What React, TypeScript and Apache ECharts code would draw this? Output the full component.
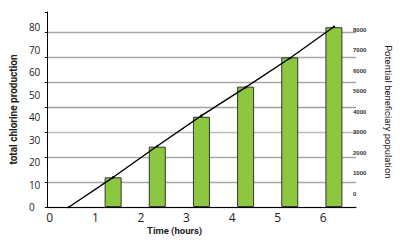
import React, { useEffect, useRef } from 'react';
import * as echarts from 'echarts';

const hours = ['0', '1', '2', '3', '4', '5', '6'];
const chlorine: (number | string)[] = ['-', 13.2, 26.8, 40.1, 53.5, 66.5, 79.9];
const population = [0, 1320, 2710, 4060, 5320, 6610, 8010];
const leftTitle = 'total chlorine production';
const rightTitle = 'Potential beneficiary population';
const xTitle = 'Time (hours)';
const gridLineColors = ['#a8a8a8', '#a8a8a8', '#a8a8a8', '#bdbdbd', '#a0a0a0', '#a8a8a8', '#a8a8a8', '#a8a8a8', 'rgba(0,0,0,0)'];

export default function App() {
  const ref = useRef<HTMLDivElement>(null);
  useEffect(() => {
    if (!ref.current) return;
    const chart = echarts.init(ref.current, null, { renderer: 'svg' });
    chart.setOption({
      animation: false,
      backgroundColor: '#ffffff',
      grid: [
        { left: 37, right: 45, top: 12, bottom: 40 },
        { left: 37, right: 45, top: 29.7, bottom: 53 },
        { left: 27, right: 55, top: 12, bottom: 40 },
      ],
      xAxis: [
        {
          type: 'category',
          gridIndex: 0,
          data: hours,
          axisLine: { lineStyle: { color: '#000', width: 1 } },
          axisTick: { length: 3, lineStyle: { color: '#000' } },
          axisLabel: { show: false },
        },
        { type: 'category', gridIndex: 1, data: hours, show: false },
        {
          type: 'category',
          gridIndex: 2,
          data: hours,
          axisLine: { show: false },
          axisTick: { show: false },
          axisLabel: {
            margin: 4,
            fontFamily: 'Open Sans',
            fontSize: 12,
            color: '#222',
          },
        },
      ],
      yAxis: [
        {
          type: 'value',
          gridIndex: 0,
          position: 'left',
          min: 0,
          max: 86.67,
          interval: 10,
          axisLine: { show: true, lineStyle: { color: '#000', width: 1 } },
          axisTick: { show: false },
          splitLine: { show: false },
          axisLabel: {
            showMaxLabel: false,
            align: 'left',
            margin: 18,
            fontFamily: 'Open Sans',
            fontSize: 10,
            color: '#222',
          },
          name: leftTitle,
          nameLocation: 'middle',
          nameRotate: 90,
          nameGap: 24,
          nameTextStyle: {
            fontFamily: 'Roboto',
            fontWeight: 'bold',
            fontSize: 10,
            color: '#222',
          },
        },
        {
          type: 'value',
          gridIndex: 0,
          position: 'left',
          min: 0,
          max: 7.82,
          interval: 1,
          axisLine: { show: false },
          axisTick: { show: true, length: 2, lineStyle: { color: '#000' } },
          axisLabel: { show: false },
          splitLine: { show: true, lineStyle: { color: gridLineColors, width: 1.3 } },
        },
        {
          type: 'value',
          gridIndex: 0,
          position: 'right',
          min: 0,
          max: 8667,
          show: false,
        },
        {
          type: 'value',
          gridIndex: 1,
          position: 'right',
          min: 0,
          max: 8000,
          interval: 1000,
          axisLine: { show: false },
          axisTick: { show: false },
          splitLine: { show: false },
          axisLabel: {
            margin: 2,
            formatter: (v: number) => String(v),
            fontFamily: 'Liberation Sans',
            fontWeight: 'bold',
            fontSize: 6,
            color: '#333',
          },
          name: rightTitle,
          nameLocation: 'middle',
          nameRotate: -90,
          nameGap: 32,
          nameTextStyle: {
            fontFamily: 'Roboto',
            fontSize: 9.5,
            color: '#222',
          },
        },
        { type: 'value', gridIndex: 2, min: 0, max: 1, show: false },
      ],
      graphic: [
        {
          type: 'text',
          left: 147,
          top: 225,
          style: {
            text: xTitle,
            font: 'bold 9.5px Roboto',
            fill: '#222',
          },
        },
      ],
      series: [
        {
          type: 'bar',
          xAxisIndex: 0,
          yAxisIndex: 0,
          data: chlorine,
          barWidth: 17,
          clip: false,
          itemStyle: { color: '#8dc63f', borderColor: '#333', borderWidth: 1 },
        },
        {
          type: 'line',
          xAxisIndex: 0,
          yAxisIndex: 2,
          data: population,
          symbol: 'circle',
          symbolSize: 2.5,
          itemStyle: { color: '#000' },
          lineStyle: { color: '#000', width: 1.4 },
          z: 5,
        },
      ],
    });
    return () => chart.dispose();
  }, []);
  return <div ref={ref} style={{ position: 'fixed', left: 0, top: 0, width: 401, height: 247 }} />;
}
